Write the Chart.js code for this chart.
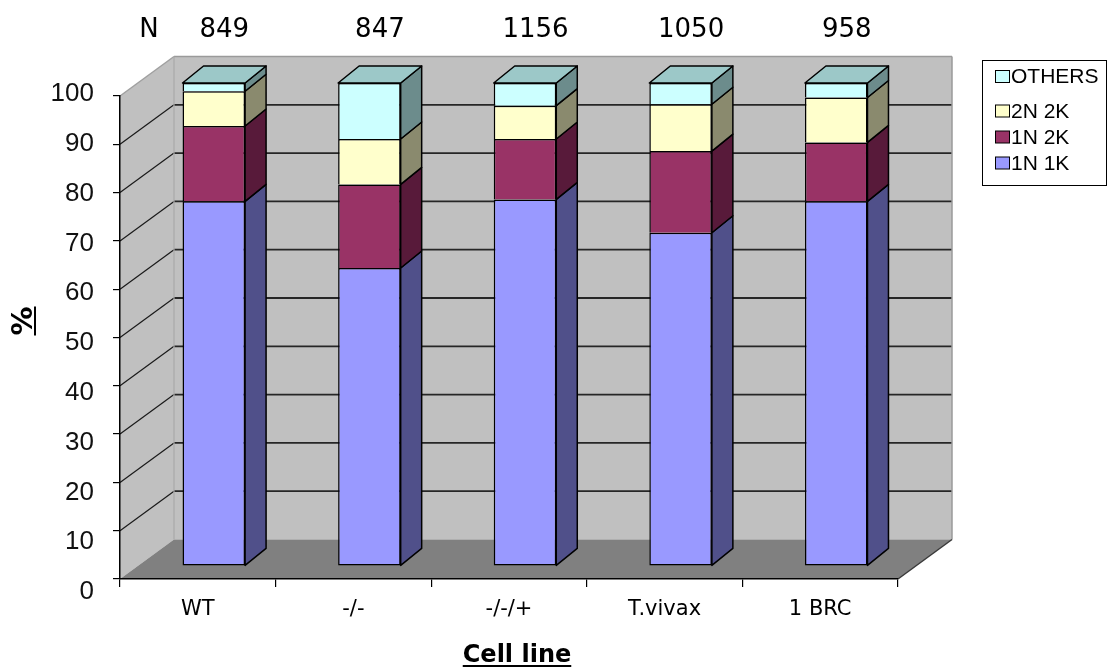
<!DOCTYPE html>
<html>
<head>
<meta charset="utf-8">
<script src="https://cdn.jsdelivr.net/npm/chart.js@4/dist/chart.umd.min.js"></script>
<style>
  html, body { margin: 0; padding: 0; background: #ffffff; }
  #wrap { width: 1108px; height: 670px; }
</style>
</head>
<body>
<div id="wrap"><canvas id="chart" width="1108" height="670"></canvas></div>
<script>
// Cell lines and number of cells counted in each
const cellLines = ['WT', '-/-', '-/-/+', 'T.vivax', '1 BRC'];
const cellCounts = [849, 847, 1156, 1050, 958];

// Percentage of cells in each nucleus/kinetoplast configuration
const oneN1K = [75.5, 61.7, 75.9, 69.0, 75.5];
const oneN2K = [15.6, 17.3, 12.5, 16.9, 12.2];
const twoN2K = [7.2, 9.4, 6.9, 9.7, 9.3];
const others = [1.7, 11.6, 4.7, 4.4, 3.0];

const seriesNames = ['1N 1K', '1N 2K', '2N 2K', 'OTHERS'];
const yTickValues = [0, 10, 20, 30, 40, 50, 60, 70, 80, 90, 100];

// Face colours of the 3D columns: front, right side, top
const frontColors = ['#9999FF', '#993366', '#FFFFCC', '#CCFFFF'];
const sideColors  = ['#50508A', '#581A3A', '#8A8A6E', '#6C8C8C'];
const topColor = '#9CC8C8';

// Depth geometry of the 3D box (pixels)
const WALL_DX = 54, WALL_DY = -39.5;   // back wall offset from front plane
const BAR_DX = 16, BAR_DY = -13;       // column front face offset from front plane
const DEPTH_DX = 21, DEPTH_DY = -17;   // column depth

function poly(ctx, pts, fill, stroke, lw) {
  ctx.beginPath();
  ctx.moveTo(pts[0][0], pts[0][1]);
  for (let i = 1; i < pts.length; i++) ctx.lineTo(pts[i][0], pts[i][1]);
  ctx.closePath();
  if (fill) { ctx.fillStyle = fill; ctx.fill(); }
  if (stroke) { ctx.strokeStyle = stroke; ctx.lineWidth = lw || 1; ctx.stroke(); }
}
function line(ctx, x1, y1, x2, y2, color, lw) {
  ctx.beginPath();
  ctx.moveTo(x1, y1); ctx.lineTo(x2, y2);
  ctx.strokeStyle = color; ctx.lineWidth = lw; ctx.stroke();
}

// Walls, floor and wall gridlines
const boxPlugin = {
  id: 'box3d',
  beforeDraw(chart) {
    const ctx = chart.ctx, a = chart.chartArea, ys = chart.scales.y;
    const L = a.left, R = a.right, T = a.top, B = a.bottom;
    ctx.save();
    ctx.fillStyle = '#ffffff';
    ctx.fillRect(0, 0, chart.width, chart.height);
    // back wall
    poly(ctx, [[L + WALL_DX, T + WALL_DY], [R + WALL_DX, T + WALL_DY], [R + WALL_DX, B + WALL_DY], [L + WALL_DX, B + WALL_DY]], '#C0C0C0');
    // left wall
    poly(ctx, [[L, T], [L + WALL_DX, T + WALL_DY], [L + WALL_DX, B + WALL_DY], [L, B]], '#C0C0C0');
    // floor
    poly(ctx, [[L, B], [L + WALL_DX, B + WALL_DY], [R + WALL_DX, B + WALL_DY], [R, B]], '#808080');
    // gridlines across both walls
    ctx.lineCap = 'butt';
    yTickValues.forEach(v => {
      if (v === 0 || v === 100) return;
      const p = ys.getPixelForValue(v);
      line(ctx, L, p, L + WALL_DX, p + WALL_DY, '#1a1a1a', 1.2);
      line(ctx, L + WALL_DX, p + WALL_DY, R + WALL_DX, p + WALL_DY, '#262626', 1.8);
    });
    // wall edges
    ctx.lineJoin = 'miter';
    line(ctx, L + WALL_DX, T + WALL_DY, R + WALL_DX, T + WALL_DY, '#9A9A9A', 1.5);
    line(ctx, R + WALL_DX, T + WALL_DY, R + WALL_DX, B + WALL_DY, '#9A9A9A', 1.5);
    line(ctx, L, T, L + WALL_DX, T + WALL_DY, '#A0A0A0', 1.5);
    line(ctx, L + WALL_DX, T + WALL_DY, L + WALL_DX, B + WALL_DY, '#A8A8A8', 1.2);
    line(ctx, R, B, R + WALL_DX, B + WALL_DY, '#3a3a3a', 1.5);
    ctx.restore();
  },
  beforeDatasetsDraw(chart) {
    chart.ctx.save();
    chart.ctx.translate(BAR_DX, BAR_DY);
  },
  afterDatasetsDraw(chart) {
    const ctx = chart.ctx;
    const n = chart.data.datasets.length;
    ctx.lineJoin = 'round';
    for (let d = 0; d < n; d++) {
      const meta = chart.getDatasetMeta(d);
      meta.data.forEach(el => {
        const { x, y, base, width } = el.getProps(['x', 'y', 'base', 'width'], true);
        const l = x - width / 2, r = x + width / 2;
        poly(ctx, [[r, y], [r + DEPTH_DX, y + DEPTH_DY], [r + DEPTH_DX, base + DEPTH_DY], [r, base]], sideColors[d], '#000', 1.5);
        if (d === n - 1) {
          poly(ctx, [[l, y], [l + DEPTH_DX, y + DEPTH_DY], [r + DEPTH_DX, y + DEPTH_DY], [r, y]], topColor, '#000', 1.5);
        }
      });
    }
    ctx.restore();
  }
};

// Value-axis labels, axis titles, cell counts and legend
const textPlugin = {
  id: 'texts',
  afterDraw(chart) {
    const ctx = chart.ctx, a = chart.chartArea, ys = chart.scales.y;
    ctx.save();

    // y tick labels
    ctx.fillStyle = '#111';
    ctx.font = '26px "Liberation Sans", Arial, sans-serif';
    ctx.textAlign = 'right';
    ctx.textBaseline = 'alphabetic';
    ys.ticks.forEach(t => {
      const p = ys.getPixelForValue(t.value);
      const c = (a.top - 4) + (p - a.top) * 1.031;
      ctx.fillText(String(t.value), a.left - 26, c + 9.3);
    });

    // y axis title
    ctx.save();
    ctx.translate(32, 321);
    ctx.rotate(-Math.PI / 2);
    ctx.font = 'bold 29px "DejaVu Sans", sans-serif';
    ctx.textAlign = 'center';
    ctx.fillStyle = '#000';
    ctx.fillText('%', 0, 0);
    const pw = ctx.measureText('%').width;
    line(ctx, -pw / 2, 3, pw / 2, 3, '#000', 2);
    ctx.restore();

    // x axis title
    ctx.font = 'bold 24px "DejaVu Sans", sans-serif';
    ctx.textAlign = 'center';
    ctx.fillStyle = '#000';
    const cx = (a.left + a.right) / 2 + 8;
    ctx.fillText('Cell line', cx, 662);
    const cw = ctx.measureText('Cell line').width;
    line(ctx, cx - cw / 2, 666, cx + cw / 2, 666, '#000', 1.8);

    // cell counts above each column
    ctx.font = '26px "DejaVu Sans", sans-serif';
    ctx.textAlign = 'center';
    ctx.fillText('N', a.left + 29, 37);
    const meta = chart.getDatasetMeta(chart.data.datasets.length - 1);
    meta.data.forEach((el, i) => {
      ctx.fillText(String(cellCounts[i]), el.x + BAR_DX + DEPTH_DX / 2, 37);
    });

    // legend
    const lx = a.right + 84, ly = 60, lw = 124, lh = 125;
    ctx.fillStyle = '#fff';
    ctx.fillRect(lx, ly, lw, lh);
    ctx.strokeStyle = '#000';
    ctx.lineWidth = 1;
    ctx.strokeRect(lx + 0.5, ly + 0.5, lw, lh);
    const rows = [16.5, 51, 77, 103];
    ctx.font = '21px "Liberation Sans", Arial, sans-serif';
    ctx.textAlign = 'left';
    ctx.textBaseline = 'middle';
    chart.data.datasets.slice().reverse().forEach((ds, k) => {
      const cy = ly + rows[k];
      ctx.fillStyle = ds.backgroundColor;
      ctx.fillRect(lx + 13.5, cy - 6, 14, 12);
      ctx.strokeStyle = '#000';
      ctx.strokeRect(lx + 13.5, cy - 6, 14, 12);
      ctx.fillStyle = '#000';
      ctx.fillText(ds.label, lx + 29, cy + 1);
    });
    ctx.restore();
  }
};

const seriesValues = [oneN1K, oneN2K, twoN2K, others];
const datasets = seriesValues.map((vals, d) => ({
  label: seriesNames[d],
  data: vals,
  backgroundColor: frontColors[d],
  borderColor: '#000',
  borderWidth: 1.5,
  borderSkipped: d === 0 ? false : 'start',
  barPercentage: 0.402,
  categoryPercentage: 1.0,
  clip: false
}));

new Chart(document.getElementById('chart'), {
  type: 'bar',
  data: { labels: cellLines, datasets },
  options: {
    responsive: false,
    animation: false,
    devicePixelRatio: 1,
    layout: { padding: { top: 96, right: 210, bottom: 0, left: 0 } },
    plugins: { legend: { display: false }, tooltip: { enabled: false } },
    scales: {
      x: {
        stacked: true,
        offset: true,
        grid: { display: true, offset: true, drawOnChartArea: false, drawTicks: true, tickLength: 8, color: '#000', lineWidth: 1.2 },
        border: { display: true, color: '#000', width: 1.5 },
        ticks: { color: '#000', font: { family: '"DejaVu Sans", sans-serif', size: 21 }, padding: 10, maxRotation: 0, autoSkip: false },
        afterFit(s) { s.height = 91; }
      },
      y: {
        stacked: true,
        min: 0,
        max: 100,
        ticks: { display: false, stepSize: 10 },
        grid: { display: true, drawOnChartArea: false, drawTicks: true, tickLength: 7, color: '#000', lineWidth: 1.2 },
        border: { display: true, color: '#000', width: 1.5 },
        afterFit(s) { s.width = 120; }
      }
    }
  },
  plugins: [boxPlugin, textPlugin]
});
</script>
</body>
</html>
